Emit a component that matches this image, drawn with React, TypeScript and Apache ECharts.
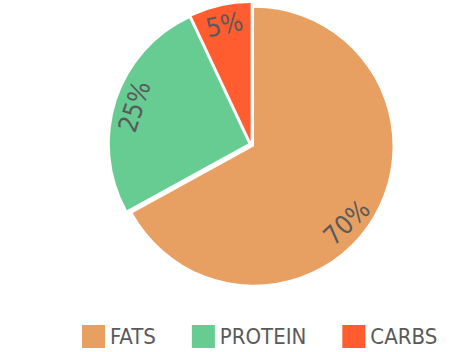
import React, { useEffect, useRef } from "react";
import * as echarts from "echarts";

// Slice sizes as drawn in the picture (angles), and the percentage labels printed on them
const categories = ["FATS", "PROTEIN", "CARBS"];
const values = [67, 26, 7];
const labels = ["70%", "25%", "5%"];
const colors = ["#E8A062", "#66CC92", "#FF5C30"];

const FONT = "'DejaVu Sans Condensed', 'DejaVu Sans', sans-serif";

export default function App() {
  const ref = useRef<HTMLDivElement>(null);
  useEffect(() => {
    if (!ref.current) return;
    const chart = echarts.init(ref.current, undefined, { renderer: "svg" });
    const data = categories.map((name, i) => ({
      name,
      value: values[i],
      selected: true,
      itemStyle: { color: colors[i] },
    }));
    const labelData = categories.map((name, i) => ({
      name,
      value: values[i],
      selected: true,
      label: i === 0 ? { rotate: 43 } : {},
    }));
    chart.setOption({
      animation: false,
      legend: {
        data: categories,
        bottom: 4,
        left: 82,
        padding: 0,
        itemWidth: 23,
        itemHeight: 23,
        itemGap: 36,
        icon: "rect",
        selectedMode: false,
        textStyle: { fontFamily: FONT, fontSize: 22, color: "#5a5a5a" },
      },
      series: [
        {
          type: "pie",
          center: [251.3, 144.6],
          radius: 138.5,
          startAngle: 90,
          clockwise: true,
          selectedMode: "multiple",
          selectedOffset: 3.2,
          label: { show: false },
          labelLine: { show: false },
          emphasis: { disabled: true },
          silent: true,
          data,
        },
        {
          type: "pie",
          center: [251.3, 144.6],
          radius: [95, 138.5],
          startAngle: 90,
          clockwise: true,
          selectedMode: "multiple",
          selectedOffset: 3.2,
          itemStyle: { color: "transparent" },
          label: {
            show: true,
            position: "inside",
            rotate: "tangential",
            formatter: (p: any) => labels[p.dataIndex],
            fontFamily: FONT,
            fontSize: 26,
            color: "#5a5a5a",
          },
          labelLayout: (p: any) => (p.dataIndex === 0 ? { dx: -18, dy: 4 } : {}),
          labelLine: { show: false },
          emphasis: { disabled: true },
          silent: true,
          data: labelData,
        },
      ],
    });
    return () => chart.dispose();
  }, []);
  return <div ref={ref} style={{ position: "absolute", left: 0, top: 0, width: 455, height: 352 }} />;
}
